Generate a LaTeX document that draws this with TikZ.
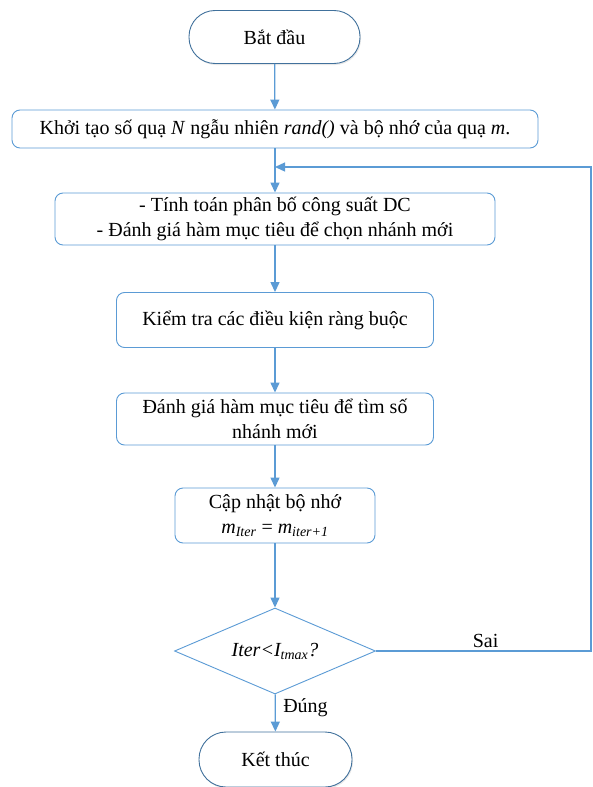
\documentclass[tikz,border=0pt]{standalone}
\usepackage{fontspec}
\setmainfont{Liberation Serif}
\usetikzlibrary{shapes.geometric,arrows.meta,shadows}
\definecolor{flowline}{HTML}{5B9BD5}
\definecolor{termline}{HTML}{41719C}
\tikzset{
  every node/.style={font=\fontsize{20}{24.5}\selectfont, align=center},
  termbox/.style={draw=termline, line width=0.9pt, fill=white, rounded corners=26pt, inner sep=0pt,
    drop shadow={opacity=0.18, shadow xshift=1pt, shadow yshift=-1.5pt}},
  procbox/.style={draw=flowline, line width=0.9pt, fill=white, rounded corners=8pt, inner sep=0pt},
  decbox/.style={draw=flowline, line width=0.9pt, fill=white, diamond, aspect=2.3, inner sep=0pt},
  flow/.style={draw=flowline, line width=1.3pt, -{Triangle[width=9pt,length=10pt]}},
  lbl/.style={font=\fontsize{20}{22}\selectfont}
}
\begin{document}
\begin{tikzpicture}[x=1pt,y=-1pt]
\useasboundingbox (0,0) rectangle (593,787);

\node[termbox, minimum width=171pt, minimum height=53pt] (start) at (274.5,37) {Bắt đầu};
\node[procbox, minimum width=526pt, minimum height=38pt] (init) at (275,129)
  {Khởi tạo số quạ \textit{N} ngẫu nhiên \textit{rand()} và bộ nhớ của quạ \textit{m}.};
\node[procbox, minimum width=440pt, minimum height=52pt] (calc) at (275,219)
  {- Tính toán phân bố công suất DC\\- Đánh giá hàm mục tiêu để chọn nhánh mới};
\node[procbox, minimum width=317pt, minimum height=55pt] (check) at (275,320)
  {Kiểm tra các điều kiện ràng buộc};
\node[procbox, minimum width=317pt, minimum height=52pt] (eval) at (275,419)
  {Đánh giá hàm mục tiêu để tìm số\\nhánh mới};
\node[procbox, minimum width=200pt, minimum height=55pt] (upd) at (275,515.5)
  {Cập nhật bộ nhớ\\\textit{m\textsubscript{Iter}} = \textit{m\textsubscript{iter+1}}};
\node[decbox, minimum width=201pt, minimum height=86pt] (dec) at (275,651)
  {\textit{Iter<I\textsubscript{tmax}?}};
\node[termbox, minimum width=153pt, minimum height=55pt, rounded corners=27pt] (stop) at (275.5,759.5)
  {Kết thúc};

\coordinate (merge) at (275,167);
\coordinate (rtop) at (591,167);
\coordinate (rbot) at (591,651);

\draw[flow] (start) -- (init);
\draw[flow] (init) -- (calc);
\draw[flow] (calc) -- (check);
\draw[flow] (check) -- (eval);
\draw[flow] (eval) -- (upd);
\draw[flow] (upd) -- (dec);
\draw[flow] (dec) -- node[lbl, right, xshift=4pt, yshift=5pt] (yes) {Đúng} (stop);
\draw[flow] (dec.east) -- node[lbl, above, pos=0.51, yshift=-1pt] (no) {Sai} (rbot) -- (rtop) -- (merge);
\end{tikzpicture}
\end{document}
